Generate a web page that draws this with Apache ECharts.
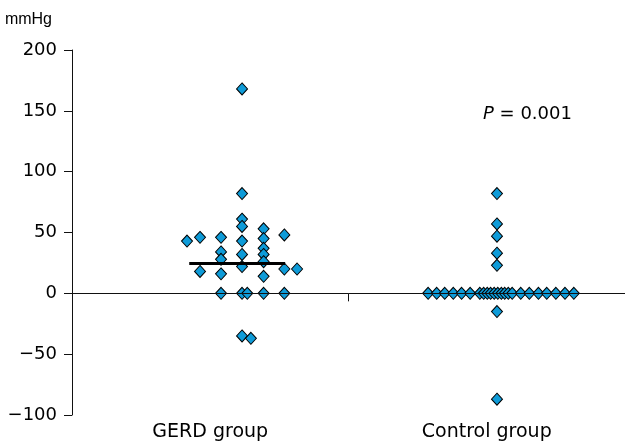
<!DOCTYPE html>
<html>
<head>
<meta charset="utf-8">
<script src="https://cdn.jsdelivr.net/npm/echarts@6/dist/echarts.min.js"></script>
<style>html,body{margin:0;padding:0;background:#fff;}#c{width:625px;height:448px;}</style>
</head>
<body>
<div id="c"></div>
<script>
// ---- data ----
const categories = ['GERD group', 'Control group'];
const yTicks = [-100, -50, 0, 50, 100, 150, 200];
const yName = 'mmHg';
const pLabel = 'P';
const pValue = '0.001';

// GERD group: horizontal position within the category band (0..1) and value
const gerdPos = [0.416, 0.463, 0.463, 0.539, 0.539, 0.539, 0.539, 0.539,
  0.615, 0.615, 0.615, 0.615, 0.615, 0.615, 0.615, 0.615, 0.615,
  0.634, 0.647,
  0.693, 0.693, 0.693, 0.693, 0.693, 0.693, 0.693,
  0.768, 0.768, 0.768, 0.814];
const gerdVal = [43, 46, 18, 46, 34, 28, 16, 0,
  168, 82, 61, 55, 43, 32, 22, 0, -35,
  0, -37,
  53, 45, 37, 32, 26, 14, 0,
  48, 20, 0, 20];
const gerdMedian = 24.5;
const gerdMedianSpan = [0.424, 0.771];

// Control group
const ctrlPos = [0.537, 0.537, 0.537, 0.537, 0.537, 0.537, 0.537,
  0.288, 0.319, 0.348, 0.379, 0.409, 0.440, 0.475, 0.489, 0.502, 0.514, 0.527,
  0.540, 0.553, 0.565, 0.578, 0.592, 0.623, 0.654, 0.687, 0.717, 0.750, 0.783, 0.815];
const ctrlVal = [82, 57, 47, 33, 23, -15, -87,
  0, 0, 0, 0, 0, 0, 0, 0, 0, 0, 0,
  0, 0, 0, 0, 0, 0, 0, 0, 0, 0, 0, 0];

// ---- chart ----
const FONT = 'DejaVu Sans';
const fill = '#0e9bd8';
const toXY = (pos, val, idx) => pos.map((p, i) => [idx + p, val[i]]);

const chart = echarts.init(document.getElementById('c'), null, {renderer: 'canvas'});
chart.setOption({
  animation: false,
  backgroundColor: '#fff',
  title: {
    text: '{i|' + pLabel + '} = ' + pValue,
    left: 478, top: 100,
    textStyle: {
      fontFamily: FONT, fontSize: 18, fontWeight: 'normal', color: '#000',
      rich: { i: { fontFamily: FONT, fontSize: 18, fontStyle: 'italic', color: '#000' } }
    }
  },
  grid: { left: 72, right: 0, top: 50, bottom: 33 },
  xAxis: [
    {
      type: 'value', min: 0, max: 2, position: 'bottom', z: 5,
      axisLine: { show: true, onZero: true, lineStyle: { color: '#111', width: 1 } },
      axisTick: { show: true, length: 8, customValues: [1], lineStyle: { color: '#111' } },
      axisLabel: { show: false },
      splitLine: { show: false }
    },
    {
      type: 'value', min: 0, max: 2, position: 'bottom',
      axisLine: { show: false, onZero: false },
      axisTick: { show: false },
      axisLabel: {
        show: true, margin: 8, customValues: [0.5, 1.5],
        fontFamily: FONT, fontSize: 19, color: '#000',
        formatter: v => categories[Math.round(v - 0.5)] || ''
      },
      splitLine: { show: false }
    }
  ],
  yAxis: {
    type: 'value', min: yTicks[0], max: yTicks[yTicks.length - 1], interval: 50,
    name: yName, nameLocation: 'end', nameGap: 22,
    nameTextStyle: { fontFamily: 'Liberation Sans', fontSize: 16, color: '#000', align: 'right', padding: [0, 20, 0, 0] },
    axisLine: { show: true, onZero: false, lineStyle: { color: '#111', width: 1 } },
    axisTick: { show: true, length: 8, lineStyle: { color: '#111' } },
    axisLabel: {
      margin: 15, fontFamily: FONT, fontSize: 18, color: '#000',
      formatter: v => String(v).replace('-', '\u2212')
    },
    splitLine: { show: false }
  },
  series: [
    {
      name: categories[0], type: 'scatter', xAxisIndex: 0, z: 2,
      symbol: 'diamond', symbolSize: [11, 12],
      itemStyle: { color: fill, borderColor: '#000', borderWidth: 1, opacity: 1 },
      data: toXY(gerdPos, gerdVal, 0)
    },
    {
      name: categories[1], type: 'scatter', xAxisIndex: 0, z: 2,
      symbol: 'diamond', symbolSize: [11, 12],
      itemStyle: { color: fill, borderColor: '#000', borderWidth: 1, opacity: 1 },
      data: toXY(ctrlPos, ctrlVal, 1)
    },
    {
      name: 'median', type: 'line', xAxisIndex: 0, z: 4,
      symbol: 'none', silent: true,
      lineStyle: { color: '#000', width: 3 },
      data: gerdMedianSpan.map(p => [p, gerdMedian])
    }
  ]
});
</script>
</body>
</html>
